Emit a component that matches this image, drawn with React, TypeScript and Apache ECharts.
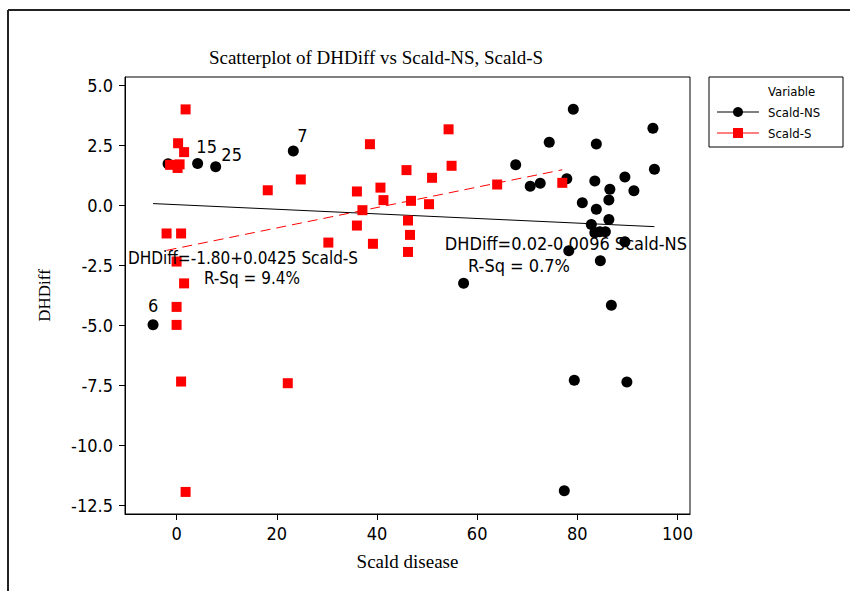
import React, { useEffect, useRef } from "react";
import * as echarts from "echarts";

// Scald-NS (black circles)
const nsX = [-4.7, -1.7, 4.2, 7.8, 23.3, 57.3, 79.2, 74.4, 83.8, 95.1, 95.4, 67.7, 89.5, 91.3, 83.5, 86.5, 77.9, 72.6, 70.6, 86.3, 81.0, 83.8, 86.3, 82.8, 83.5, 84.5, 85.6, 89.5, 78.3, 84.6, 86.8, 79.4, 89.9, 77.4];
const nsY = [-4.98, 1.72, 1.74, 1.6, 2.26, -3.25, 4.0, 2.62, 2.55, 3.2, 1.5, 1.68, 1.17, 0.6, 1.01, 0.66, 1.1, 0.91, 0.79, 0.21, 0.1, -0.17, -0.6, -0.81, -1.15, -1.11, -1.11, -1.53, -1.9, -2.32, -4.17, -7.3, -7.37, -11.9];
const nsLabels = ["6", "", "15", "25", "7"];

// Scald-S (red squares)
const sX = [1.8, 0.3, 1.5, -1.3, 0.2, 0.6, 18.2, 24.8, -2.0, 0.9, 0.0, 1.5, 0.0, 0.0, 0.9, 22.2, 1.8, 38.6, 54.3, 54.9, 45.9, 51.0, 40.7, 36.0, 41.3, 46.8, 50.4, 37.1, 36.0, 46.2, 46.6, 30.3, 39.2, 46.2, 64.0, 77.0];
const sY = [3.99, 2.58, 2.21, 1.68, 1.55, 1.7, 0.62, 1.07, -1.18, -1.18, -2.35, -3.26, -4.24, -4.99, -7.35, -7.42, -11.95, 2.54, 3.16, 1.64, 1.46, 1.14, 0.73, 0.57, 0.21, 0.18, 0.04, -0.21, -0.85, -0.64, -1.24, -1.56, -1.61, -1.95, 0.86, 0.93];

// Fitted lines (endpoints)
const nsFitX = [-4.7, 95.4];
const nsFitY = [0.065, -0.896];
const sFitX = [-2.0, 77.0];
const sFitY = [-1.885, 1.473];

const xTicks = [0, 20, 40, 60, 80, 100];
const yTicks = [-12.5, -10, -7.5, -5, -2.5, 0, 2.5, 5];

const SANS = "'DejaVu Sans Condensed', 'DejaVu Sans', sans-serif";
const SERIF = "'Liberation Serif', 'Times New Roman', serif";

const labelOffsets: Record<string, number[]> = {
  "6": [0, 0],
  "15": [9, 3],
  "25": [16, 7],
  "7": [9, 4],
};

export default function App() {
  const ref = useRef<HTMLDivElement>(null);
  useEffect(() => {
    if (!ref.current) return;
    const chart = echarts.init(ref.current, undefined, { renderer: "svg" });
    const nsData = nsX.map((x, i) => {
      const lab = nsLabels[i];
      if (lab) {
        return {
          value: [x, nsY[i]],
          label: {
            show: true,
            formatter: lab,
            position: "top",
            offset: labelOffsets[lab],
            fontSize: 18,
            fontFamily: SANS,
            color: "#000",
          },
        };
      }
      return { value: [x, nsY[i]] };
    });
    const sData = sX.map((x, i) => [x, sY[i]]);
    chart.setOption({
      animation: false,
      backgroundColor: "#fff",
      title: {
        text: "Scatterplot of DHDiff vs Scald-NS, Scald-S",
        left: 371,
        top: 43,
        textAlign: "center",
        textStyle: { fontFamily: SERIF, fontSize: 19, fontWeight: "normal", color: "#000" },
      },
      grid: {
        left: 125,
        top: 77,
        right: 160,
        bottom: 77,
        show: true,
        borderColor: "#000",
        borderWidth: 1,
        backgroundColor: "transparent",
      },
      xAxis: {
        type: "value",
        min: -10.3,
        max: 102.5,
        name: "Scald disease",
        nameLocation: "middle",
        nameGap: 38,
        nameTextStyle: { fontFamily: SERIF, fontSize: 19, color: "#000" },
        axisLine: { show: true, onZero: false, lineStyle: { color: "#000", width: 1 } },
        axisTick: { show: true, inside: false, length: 6, customValues: xTicks, lineStyle: { color: "#000" } },
        axisLabel: { customValues: xTicks, fontFamily: SANS, fontSize: 18, color: "#000", margin: 10 },
        splitLine: { show: false },
      },
      yAxis: {
        type: "value",
        min: -12.87,
        max: 5.34,
        name: "DHDiff",
        nameLocation: "middle",
        nameGap: 72,
        nameTextStyle: { fontFamily: SERIF, fontSize: 17, color: "#000" },
        axisLine: { show: true, onZero: false, lineStyle: { color: "#000", width: 1 } },
        axisTick: { show: true, inside: false, length: 6, customValues: yTicks, lineStyle: { color: "#000" } },
        axisLabel: {
          customValues: yTicks,
          formatter: (v: number) => v.toFixed(1),
          fontFamily: SANS,
          fontSize: 18,
          color: "#000",
          margin: 12,
        },
        splitLine: { show: false },
      },
      series: [
        {
          name: "Scald-NS fit",
          type: "line",
          data: nsFitX.map((x, i) => [x, nsFitY[i]]),
          showSymbol: false,
          symbol: "none",
          lineStyle: { color: "#000", width: 1 },
          z: 1,
          silent: true,
        },
        {
          name: "Scald-S fit",
          type: "line",
          data: sFitX.map((x, i) => [x, sFitY[i]]),
          showSymbol: false,
          symbol: "none",
          lineStyle: { color: "#ff0000", width: 1, type: [10, 6] },
          z: 1,
          silent: true,
        },
        {
          name: "Scald-NS",
          type: "scatter",
          symbol: "circle",
          symbolSize: 11,
          itemStyle: { color: "#000", opacity: 1 },
          data: nsData,
          z: 2,
        },
        {
          name: "Scald-S",
          type: "scatter",
          symbol: "rect",
          symbolSize: 10,
          itemStyle: { color: "#ff0000", opacity: 1 },
          data: sData,
          z: 3,
        },
      ],
      graphic: [
        { type: "line", shape: { x1: 8, y1: 10, x2: 850, y2: 10 }, style: { stroke: "#222", lineWidth: 2 } },
        { type: "line", shape: { x1: 8, y1: 10, x2: 8, y2: 591 }, style: { stroke: "#222", lineWidth: 2 } },
        {
          type: "text",
          x: 128,
          y: 258,
          style: { text: "DHDiff=-1.80+0.0425 Scald-S", font: `17px ${SANS}`, fill: "#000", verticalAlign: "middle", align: "left" },
          z: 10,
        },
        {
          type: "text",
          x: 252,
          y: 278,
          style: { text: "R-Sq = 9.4%", font: `17px ${SANS}`, fill: "#000", verticalAlign: "middle", align: "center" },
          z: 10,
        },
        {
          type: "text",
          x: 687,
          y: 243,
          style: { text: "DHDiff=0.02-0.0096 Scald-NS", font: `18px ${SANS}`, fill: "#000", verticalAlign: "middle", align: "right" },
          z: 10,
        },
        {
          type: "text",
          x: 519,
          y: 265,
          style: { text: "R-Sq = 0.7%", font: `18px ${SANS}`, fill: "#000", verticalAlign: "middle", align: "center" },
          z: 10,
        },
        {
          type: "rect",
          shape: { x: 709, y: 77, width: 134, height: 70 },
          style: { fill: "#fff", stroke: "#000", lineWidth: 1 },
        },
        {
          type: "text",
          x: 768,
          y: 91,
          style: { text: "Variable", font: `13px ${SANS}`, fill: "#000", verticalAlign: "middle" },
        },
        { type: "line", shape: { x1: 717, y1: 112, x2: 759, y2: 112 }, style: { stroke: "#000", lineWidth: 1 } },
        { type: "circle", shape: { cx: 738, cy: 112, r: 5 }, style: { fill: "#000" } },
        {
          type: "text",
          x: 768,
          y: 112,
          style: { text: "Scald-NS", font: `13px ${SANS}`, fill: "#000", verticalAlign: "middle" },
        },
        { type: "line", shape: { x1: 717, y1: 133, x2: 759, y2: 133 }, style: { stroke: "#ff0000", lineWidth: 1 } },
        { type: "rect", shape: { x: 733, y: 128, width: 10, height: 10 }, style: { fill: "#ff0000" } },
        {
          type: "text",
          x: 768,
          y: 133,
          style: { text: "Scald-S", font: `13px ${SANS}`, fill: "#000", verticalAlign: "middle" },
        },
      ],
    });
    return () => chart.dispose();
  }, []);
  return (
    <div
      ref={ref}
      style={{ position: "absolute", left: 0, top: 0, width: 850, height: 591, background: "#fff" }}
    />
  );
}
